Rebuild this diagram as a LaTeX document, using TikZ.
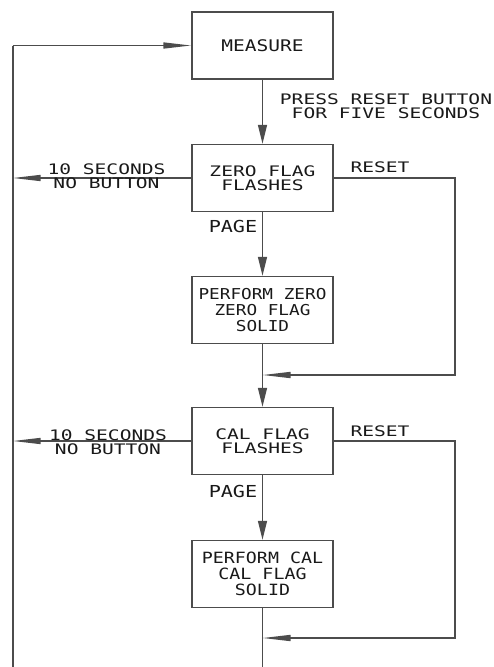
\documentclass[tikz,border=0pt]{standalone}
\usepackage{fontspec}
\newfontfamily\cad[FakeStretch=1.35]{DejaVu Sans Mono}
\newfontfamily\cadm[FakeStretch=1.22]{DejaVu Sans Mono}
\newfontfamily\cadn[FakeStretch=1.18]{DejaVu Sans Mono}
\usetikzlibrary{arrows.meta}
\begin{document}
\begin{tikzpicture}[x=1pt,y=-1pt,
  ln/.style={line width=1.5pt,draw=black!70},
  stepbox/.style={ln,minimum width=141pt,minimum height=67pt,inner sep=0pt,align=center,text=black!90,font=\cad\fontsize{14.5}{14}\selectfont},
  lbl/.style={inner sep=0pt,align=center,text=black!90,font=\cad\fontsize{14.5}{14}\selectfont},
  va/.style={-{Triangle[length=19pt,width=9pt]}},
  ha/.style={-{Triangle[length=28pt,width=6pt]}}]
\useasboundingbox (0,0) rectangle (494,667);
\fill[white] (0,0) rectangle (494,667);
% boxes
\node[stepbox,font=\cadm\fontsize{16}{16}\selectfont] (m) at (262.5,45.5) {MEASURE};
\node[stepbox] (z) at (262.5,178) {ZERO FLAG\\FLASHES};
\node[stepbox,font=\cadn\fontsize{15}{16}\selectfont] (pz) at (262.5,310) {PERFORM ZERO\\ZERO FLAG\\SOLID};
\node[stepbox] (c) at (262.5,441) {CAL FLAG\\FLASHES};
\node[stepbox,font=\cadn\fontsize{15.5}{16}\selectfont] (pc) at (262.5,574) {PERFORM CAL\\CAL FLAG\\SOLID};
% coordinates
\coordinate (L0) at (12.7,45.5);
\coordinate (L1) at (12.7,667);
\coordinate (R1) at (455,375);
\coordinate (J1) at (262.5,375);
\coordinate (R2) at (455,638);
\coordinate (J2) at (262.5,638);
% left return line
\draw[ln,line width=2.2pt] (L1) -- (L0);
\draw[ln,ha] (L0) -- (m.west);
\draw[ln,ha] (z.west) -- (z.west -| L0);
\draw[ln,ha] (c.west) -- (c.west -| L0);
% main trunk
\draw[ln,va] (m.south) -- (z.north);
\draw[ln,va] (z.south) -- (pz.north);
\draw[ln,va] (pz.south) -- (c.north);
\draw[ln,va] (c.south) -- (pc.north);
\draw[ln] (pc.south) -- (pc.south |- L1);
% reset loops
\draw[ln,ha] (z.east) -- (z.east -| R1) -- (R1) -- (J1);
\draw[ln,ha] (c.east) -- (c.east -| R2) -- (R2) -- (J2);
% labels
\node[lbl] (press) at (386,106) {PRESS RESET BUTTON\\FOR FIVE SECONDS};
\node[lbl] (nb1) at (106.5,176) {10 SECONDS\\NO BUTTON};
\node[lbl] (nb2) at (108,442) {10 SECONDS\\NO BUTTON};
\node[lbl] (rs1) at (380,167) {RESET};
\node[lbl] (rs2) at (380,431.5) {RESET};
\node[lbl,font=\cadm\fontsize{16.5}{16}\selectfont] (pg1) at (233,226.5) {PAGE};
\node[lbl,font=\cadm\fontsize{16.5}{16}\selectfont] (pg2) at (233,491.5) {PAGE};
\end{tikzpicture}
\end{document}
